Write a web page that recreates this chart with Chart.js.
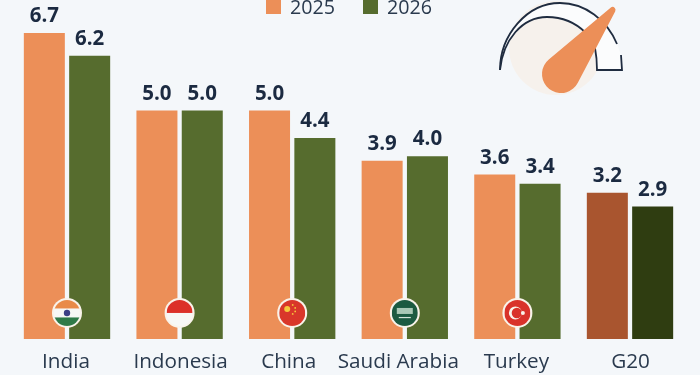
<!DOCTYPE html>
<html>
<head>
<meta charset="utf-8">
<style>
html,body{margin:0;padding:0;background:#f4f7fa;overflow:hidden}
canvas{display:block}
</style>
<script src="https://cdn.jsdelivr.net/npm/chart.js@4"></script>
</head>
<body>
<canvas id="c" width="700" height="375"></canvas>
<script>
const categories = ["India", "Indonesia", "China", "Saudi Arabia", "Turkey", "G20"];
const values2025 = [6.7, 5.0, 5.0, 3.9, 3.6, 3.2];
const values2026 = [6.2, 5.0, 4.4, 4.0, 3.4, 2.9];
const colors2025 = ["#ec8f58", "#ec8f58", "#ec8f58", "#ec8f58", "#ec8f58", "#a9552f"];
const colors2026 = ["#566c2e", "#566c2e", "#566c2e", "#566c2e", "#566c2e", "#2f3d11"];
const seriesNames = ["2025", "2026"];
const legendColors = ["#ec8f58", "#566c2e"];
const labelNudge = [-1, 1, -3.5, -6.5, -1, 0.5];
const FONT = '"Open Sans", sans-serif';
const INK = "#1b2a41";

function drawFlag(ctx, name, x, y) {
  const r = 13;
  ctx.save();
  ctx.beginPath(); ctx.arc(x, y, 15, 0, Math.PI * 2); ctx.fillStyle = "#f9f3ea"; ctx.fill();
  ctx.beginPath(); ctx.arc(x, y, r, 0, Math.PI * 2); ctx.clip();
  if (name === "India") {
    ctx.fillStyle = "#f7f7f5"; ctx.fillRect(x - r, y - r, 2 * r, 2 * r);
    ctx.fillStyle = "#e98a48"; ctx.fillRect(x - r, y - r, 2 * r, 8.5);
    ctx.fillStyle = "#2f7a48"; ctx.fillRect(x - r, y + 4.5, 2 * r, 8.5);
    ctx.beginPath(); ctx.arc(x, y, 3.2, 0, Math.PI * 2); ctx.fillStyle = "#3c3f85"; ctx.fill();
  } else if (name === "Indonesia") {
    ctx.fillStyle = "#f7f7f5"; ctx.fillRect(x - r, y - r, 2 * r, 2 * r);
    ctx.fillStyle = "#dc3028"; ctx.fillRect(x - r, y - r, 2 * r, r);
  } else if (name === "China") {
    ctx.fillStyle = "#d9372a"; ctx.fillRect(x - r, y - r, 2 * r, 2 * r);
    ctx.fillStyle = "#f6c83c";
    ctx.beginPath(); ctx.arc(x - 5, y - 4, 3, 0, Math.PI * 2); ctx.fill();
    [[0.5, -8], [3, -5], [3, -1.5], [0.5, 1]].forEach(s => {
      ctx.beginPath(); ctx.arc(x + s[0], y + s[1], 0.9, 0, Math.PI * 2); ctx.fill();
    });
  } else if (name === "Saudi Arabia") {
    ctx.fillStyle = "#1c5a41"; ctx.fillRect(x - r, y - r, 2 * r, 2 * r);
    ctx.fillStyle = "#a9c8b6"; ctx.fillRect(x - 8, y - 5, 16, 6);
    ctx.fillStyle = "#d5e4da"; ctx.fillRect(x - 6, y + 4, 12, 1.2);
  } else if (name === "Turkey") {
    ctx.fillStyle = "#d9322a"; ctx.fillRect(x - r, y - r, 2 * r, 2 * r);
    ctx.fillStyle = "#f9f3ea";
    ctx.beginPath(); ctx.arc(x - 2, y, 6.5, 0, Math.PI * 2); ctx.fill();
    ctx.fillStyle = "#d9322a";
    ctx.beginPath(); ctx.arc(x - 0.5, y, 5.2, 0, Math.PI * 2); ctx.fill();
    ctx.fillStyle = "#f9f3ea";
    ctx.beginPath(); ctx.arc(x + 5.5, y, 2, 0, Math.PI * 2); ctx.fill();
  }
  ctx.restore();
}

function drawGauge(ctx) {
  ctx.save();
  ctx.beginPath(); ctx.arc(556, 48, 47, 0, Math.PI * 2); ctx.fillStyle = "#f6f1ec"; ctx.fill();
  // pale band between the two arcs
  ctx.beginPath();
  ctx.moveTo(500, 70);
  ctx.bezierCurveTo(500, 35, 527, 3, 560, 3);
  ctx.bezierCurveTo(585, 3, 607, 20, 617, 44);
  ctx.lineTo(621, 55); ctx.lineTo(622, 70); ctx.lineTo(597, 70);
  ctx.quadraticCurveTo(597, 58, 595, 48);
  ctx.lineTo(586, 33);
  ctx.bezierCurveTo(575, 22, 562, 17, 547, 17);
  ctx.bezierCurveTo(522, 17, 503, 40, 500, 70);
  ctx.fillStyle = "#fbfcfd"; ctx.fill();
  ctx.strokeStyle = "#1f2c40"; ctx.lineWidth = 1.8;
  ctx.beginPath();
  ctx.moveTo(500, 70);
  ctx.bezierCurveTo(500, 35, 527, 3, 560, 3);
  ctx.bezierCurveTo(585, 3, 607, 20, 617, 44);
  ctx.stroke();
  ctx.beginPath();
  ctx.moveTo(500, 70);
  ctx.bezierCurveTo(503, 40, 522, 17, 547, 17);
  ctx.bezierCurveTo(562, 17, 575, 22, 586, 33);
  ctx.stroke();
  ctx.beginPath();
  ctx.moveTo(595, 48);
  ctx.quadraticCurveTo(597, 58, 597, 70);
  ctx.lineTo(622, 70);
  ctx.lineTo(621, 55);
  ctx.stroke();
  // needle: hull of a big hub and a small rounded tip
  const cx = 561, cy = 74, R = 19, tx = 612.5, ty = 10, r = 3;
  const th = Math.atan2(ty - cy, tx - cx);
  const a = Math.acos((R - r) / Math.hypot(tx - cx, ty - cy));
  ctx.fillStyle = "#ec8f58";
  ctx.beginPath();
  ctx.arc(cx, cy, R, th + a, th - a);
  ctx.arc(tx, ty, r, th - a, th + a);
  ctx.closePath();
  ctx.fill();
  ctx.restore();
}

const extras = {
  id: "extras",
  beforeDraw(chart) {
    // shift each category label off its bar centre, as in the reference
    chart.scales.x.getLabelItems().forEach((item, i) => {
      item.options.translation[0] += labelNudge[i];
    });
  },
  beforeDatasetsDraw(chart) {
    drawGauge(chart.ctx);
  },
  afterDatasetsDraw(chart) {
    const ctx = chart.ctx;
    ctx.save();
    ctx.font = "700 20.5px " + FONT;
    ctx.fillStyle = INK;
    ctx.textAlign = "center";
    ctx.textBaseline = "alphabetic";
    chart.data.datasets.forEach((ds, i) => {
      chart.getDatasetMeta(i).data.forEach((bar, j) => {
        ctx.fillText(ds.data[j].toFixed(1), bar.x, bar.y - 11);
      });
    });
    const yScale = chart.scales.y;
    categories.forEach((name, j) => {
      if (name !== "G20") drawFlag(ctx, name, chart.scales.x.getPixelForValue(j), yScale.getPixelForValue(0.57));
    });
    // legend, cropped by the top edge as in the reference
    const items = [[266, 290], [363, 387]];
    ctx.font = "400 19.7px " + FONT;
    ctx.textAlign = "left";
    items.forEach((p, i) => {
      ctx.fillStyle = legendColors[i];
      ctx.fillRect(p[0], -1, 15, 15);
      ctx.fillStyle = "#2a3a4e";
      ctx.fillText(seriesNames[i], p[1], 14);
    });
    ctx.restore();
  }
};

new Chart(document.getElementById("c"), {
  type: "bar",
  data: {
    labels: categories,
    datasets: [
      { label: seriesNames[0], data: values2025, backgroundColor: colors2025 },
      { label: seriesNames[1], data: values2026, backgroundColor: colors2026 }
    ]
  },
  options: {
    responsive: false,
    animation: false,
    layout: { padding: { left: 10.7, right: 13.7, top: 0, bottom: 0 } },
    datasets: { bar: { categoryPercentage: 0.805, barPercentage: 0.905 } },
    plugins: { legend: { display: false }, tooltip: { enabled: false } },
    scales: {
      x: {
        grid: { display: false },
        border: { display: false },
        afterFit(s) { s.height = 36; },
        ticks: {
          autoSkip: false, minRotation: 0, maxRotation: 0, padding: 3,
          color: "#2a3a4e", font: { family: FONT, size: 20.7, weight: "400" }
        }
      },
      y: { display: false, min: 0, max: 7.42 }
    }
  },
  plugins: [extras]
});
</script>
</body>
</html>
